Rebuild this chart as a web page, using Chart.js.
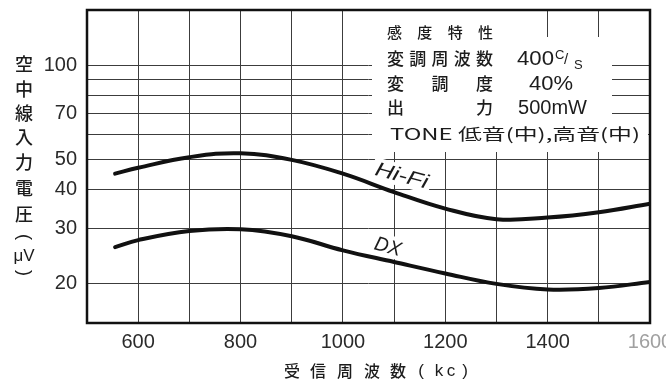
<!DOCTYPE html>
<html><head><meta charset="utf-8">
<script src="https://cdn.jsdelivr.net/npm/chart.js@4"></script>
<style>html,body{margin:0;padding:0;background:#fff;}canvas{display:block}</style>
</head><body>
<canvas id="c" width="666" height="383"></canvas>
<script>
// ---- data ----
const freqKc = [555, 600, 700, 800, 900, 1000, 1100, 1200, 1300, 1400, 1500, 1600];
const hifiMicroV = [45.0, 47.0, 50.8, 52.3, 49.8, 45.0, 39.3, 34.8, 32.2, 32.6, 33.9, 36.1];
const dxMicroV = [26.2, 27.6, 29.5, 29.9, 28.4, 25.6, 23.5, 21.6, 20.0, 19.2, 19.4, 20.3];
const seriesNames = ['Hi-Fi', 'DX'];
const xTickLabels = [600, 800, 1000, 1200, 1400, 1600];
const yGridValues = [20, 30, 40, 50, 60, 70, 80, 90, 100];
const yTickLabels = [20, 30, 40, 50, 70, 100];
const yTitleParts = ['空', '中', '線', '入', '力', '電', '圧', '(', 'μV', ')'];
const xTitleParts = ['受', '信', '周', '波', '数', '(', 'k', 'c', ')'];
const legendLabels = ['感度特性', '変調周波数', '変調度', '出力'];
const legendValues = ['', '400', '40%', '500mW'];
const legendUnit = ['C', '/', 'S'];
const toneText = 'TONE 低音(中),高音(中)';

// ---- styling helpers ----
const INK = '#1c1c1c';
const CJK = '"Noto Sans CJK JP", "Noto Sans CJK SC", sans-serif';
const LAT = '"Liberation Sans", Arial, sans-serif';

function fitText(ctx, text, x0, x1, y) {
  const w = ctx.measureText(text).width;
  const sx = (x1 - x0) / w;
  ctx.save(); ctx.translate(x0, y); ctx.scale(sx, 1);
  ctx.textAlign = 'left'; ctx.fillText(text, 0, 0); ctx.restore();
}
function justify(ctx, text, x0, x1, y) {
  const chars = [...text]; const n = chars.length;
  const w = ctx.measureText(chars[0]).width;
  ctx.textAlign = 'center';
  chars.forEach((c, i) => {
    const cx = n === 1 ? x0 + w / 2 : x0 + w / 2 + i * (x1 - x0 - w) / (n - 1);
    ctx.fillText(c, cx, y);
  });
}

const annotate = {
  id: 'annotate',
  beforeDatasetsDraw(chart) {
    const ctx = chart.ctx; const xs = chart.scales.x; const ys = chart.scales.y;
    ctx.save();
    // legend panel (white, hides the grid)
    ctx.fillStyle = '#fff';
    ctx.fillRect(372, 37, 240, 115);
    ctx.fillRect(372, 10, 173, 27);
    ctx.fillRect(612, 122, 36, 30);
    ctx.fillStyle = INK; ctx.textBaseline = 'middle';
    const rowsY = [32, 59, 84, 108];
    legendLabels.forEach((t, i) => {
      ctx.font = (i === 0 ? '500 15px ' : '500 17px ') + CJK;
      justify(ctx, t, 387, 493, rowsY[i]);
    });
    ctx.font = '20px ' + LAT;
    fitText(ctx, legendValues[1], 517, 554, rowsY[1]);
    fitText(ctx, legendValues[2], 529, 573, rowsY[2]);
    fitText(ctx, legendValues[3], 518, 587, rowsY[3]);
    ctx.font = '13px ' + LAT; ctx.textAlign = 'left';
    ctx.fillText(legendUnit[0], 555, 55);
    ctx.font = '15px ' + LAT; ctx.fillText(legendUnit[1], 564, 60);
    ctx.font = '13px ' + LAT; ctx.fillText(legendUnit[2], 574, 65);
    ctx.font = '16px ' + CJK;
    fitText(ctx, toneText, 390, 640, 134);

    // curve labels
    const labelAt = [[1115, 44.4, 54], [1088, 26.4, 27]];
    labelAt.forEach((p, i) => {
      const px = xs.getPixelForValue(p[0]); const py = ys.getPixelForValue(p[1]);
      ctx.save(); ctx.translate(px, py); ctx.rotate(15 * Math.PI / 180);
      ctx.font = 'italic 20px ' + LAT;
      const w = ctx.measureText(seriesNames[i]).width; const sx = p[2] / w;
      ctx.fillStyle = '#fff'; ctx.fillRect(-p[2] / 2 - 3, -11, p[2] + 6, 22);
      ctx.fillStyle = INK; ctx.textAlign = 'center';
      ctx.scale(sx, 1); ctx.fillText(seriesNames[i], 0, 1);
      ctx.restore();
    });
    ctx.restore();
  },
  afterDraw(chart) {
    const ctx = chart.ctx; const ca = chart.chartArea;
    ctx.save();
    ctx.strokeStyle = '#111'; ctx.lineWidth = 2.5;
    ctx.strokeRect(ca.left, ca.top, ca.right - ca.left, ca.bottom - ca.top);
    ctx.fillStyle = INK; ctx.textBaseline = 'middle'; ctx.textAlign = 'center';
    // y title (vertical)
    const ty = [64, 89, 113, 137, 162, 188, 214, 237, 256, 273];
    yTitleParts.forEach((t, i) => {
      if (t === '(' || t === ')') {
        ctx.save(); ctx.translate(24, ty[i]); ctx.rotate(Math.PI / 2);
        ctx.font = '18px ' + LAT; ctx.fillText(t, 0, 0); ctx.restore();
      } else if (t === 'μV') {
        ctx.font = '17px ' + LAT; ctx.fillText(t, 24, ty[i]);
      } else {
        ctx.font = '500 18px ' + CJK; ctx.fillText(t, 24, ty[i]);
      }
    });
    // x title
    const tx = [292, 318, 345, 372, 398, 421, 439, 451, 465];
    xTitleParts.forEach((t, i) => {
      ctx.font = (i < 5 ? '500 16px ' + CJK : '17px ' + LAT);
      ctx.fillText(t, tx[i], 371);
    });
    ctx.restore();
  }
};

const toPts = vals => freqKc.map((f, i) => ({ x: f, y: vals[i] }));
const lineStyle = { borderColor: '#111', borderWidth: 4, pointRadius: 0, tension: 0.4, fill: false, borderCapStyle: 'round' };

new Chart(document.getElementById('c'), {
  type: 'line',
  data: {
    datasets: [
      Object.assign({ label: seriesNames[0], data: toPts(hifiMicroV) }, lineStyle),
      Object.assign({ label: seriesNames[1], data: toPts(dxMicroV) }, lineStyle)
    ]
  },
  options: {
    responsive: false, animation: false, devicePixelRatio: 1,
    layout: { padding: { top: 10, right: 16, left: 0, bottom: 0 } },
    plugins: { legend: { display: false }, tooltip: { enabled: false } },
    scales: {
      x: {
        type: 'linear', min: 500, max: 1600,
        ticks: {
          stepSize: 100, autoSkip: false, maxRotation: 0, padding: 7,
          font: { family: LAT, size: 20 },
          color: c => (c.tick && c.tick.value === 1600 ? '#a0a0a0' : '#2a2a2a'),
          callback: v => (xTickLabels.includes(v) ? String(v) : '')
        },
        grid: { color: '#3c3c3c', lineWidth: 1, drawTicks: false },
        border: { display: false },
        afterFit(s) { s.height = 60; s.paddingLeft = 0; s.paddingRight = 0; }
      },
      y: {
        type: 'logarithmic', min: 15, max: 150,
        afterBuildTicks(s) { s.ticks = yGridValues.map(v => ({ value: v })); },
        ticks: {
          padding: 10, autoSkip: false,
          font: { family: LAT, size: 20 }, color: '#2a2a2a',
          callback: v => (yTickLabels.includes(v) ? String(v) : '')
        },
        grid: { color: '#3c3c3c', lineWidth: 1, drawTicks: false },
        border: { display: false },
        afterFit(s) { s.width = 87; s.paddingTop = 0; s.paddingBottom = 0; }
      }
    }
  },
  plugins: [annotate]
});
</script>
</body></html>
